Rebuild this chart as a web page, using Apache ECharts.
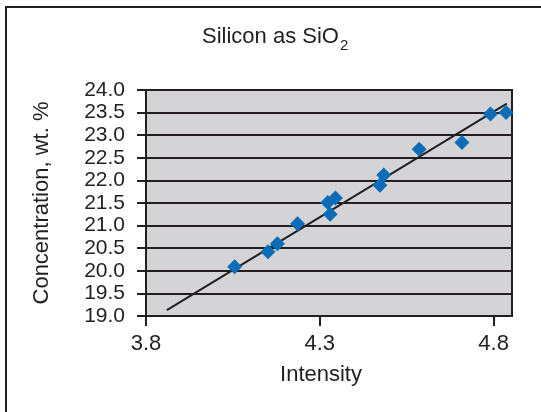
<!DOCTYPE html>
<html>
<head>
<meta charset="utf-8">
<script src="https://cdn.jsdelivr.net/npm/echarts@6/dist/echarts.min.js"></script>
<style>
html,body{margin:0;padding:0;background:#fff;}
#c{width:541px;height:412px;}
</style>
</head>
<body>
<div id="c"></div>
<script>
// Data
var intensity = [4.055, 4.151, 4.178, 4.236, 4.323, 4.345, 4.330, 4.473, 4.484, 4.586, 4.709, 4.791, 4.836];
var concentration = [20.09, 20.42, 20.60, 21.04, 21.51, 21.61, 21.25, 21.89, 22.12, 22.69, 22.84, 23.47, 23.50];
var trendX = [3.86, 4.838];
var trendY = [19.13, 23.70];
var xTicks = [3.8, 4.3, 4.8];

var scatterData = intensity.map(function (v, i) { return [v, concentration[i]]; });
var trendData = trendX.map(function (v, i) { return [v, trendY[i]]; });

var FONT = '"Liberation Sans", Arial, Helvetica, sans-serif';
var TXT = '#231f20';

var chart = echarts.init(document.getElementById('c'), null, {renderer: 'canvas'});
chart.setOption({
  animation: false,
  backgroundColor: '#ffffff',
  title: {
    text: '{a|Silicon as SiO}{b|2}',
    left: 202,
    top: 24,
    padding: 0,
    textStyle: {
      fontWeight: 'normal',
      rich: {
        a: {fontFamily: FONT, fontSize: 22, fontWeight: 'normal', color: TXT, verticalAlign: 'bottom', lineHeight: 24},
        b: {fontFamily: FONT, fontSize: 15, fontWeight: 'normal', color: TXT, verticalAlign: 'bottom', lineHeight: 24, padding: [0, 0, -5, 1]}
      }
    }
  },
  graphic: [{
    type: 'rect',
    shape: {x: 6, y: 7, width: 700, height: 600},
    style: {fill: 'none', stroke: '#231f20', lineWidth: 2},
    silent: true,
    z: 100
  }],
  grid: {
    left: 146, right: 29, top: 90, bottom: 96,
    show: true,
    backgroundColor: '#d4d4d6',
    borderColor: '#231f20',
    borderWidth: 2,
    containLabel: false
  },
  xAxis: {
    type: 'value',
    min: 3.8, max: 4.853,
    interval: 0.5,
    name: 'Intensity',
    nameLocation: 'middle',
    nameGap: 48,
    nameTextStyle: {fontFamily: FONT, fontSize: 22, color: TXT, padding: [0, 16, 0, 0]},
    axisLine: {show: true, lineStyle: {color: '#231f20', width: 2}},
    axisTick: {show: true, inside: false, length: 10, customValues: xTicks, lineStyle: {color: '#231f20', width: 2}},
    axisLabel: {fontFamily: FONT, fontSize: 22, color: TXT, margin: 17, customValues: xTicks,
      formatter: function (v) { return v.toFixed(1); }},
    splitLine: {show: false}
  },
  yAxis: {
    type: 'value',
    min: 19, max: 24, interval: 0.5,
    name: 'Concentration, wt. %',
    nameLocation: 'middle',
    nameGap: 93,
    nameTextStyle: {fontFamily: FONT, fontSize: 22, color: TXT},
    axisLine: {show: true, lineStyle: {color: '#231f20', width: 2}},
    axisTick: {show: true, inside: false, length: 9, lineStyle: {color: '#231f20', width: 2}},
    axisLabel: {fontFamily: FONT, fontSize: 21, color: TXT, margin: 21,
      formatter: function (v) { return v.toFixed(1); }},
    splitLine: {show: true, lineStyle: {color: '#231f20', width: 2.2}}
  },
  series: [
    {
      type: 'line',
      data: trendData,
      showSymbol: false,
      symbol: 'none',
      lineStyle: {color: '#231f20', width: 2},
      silent: true,
      z: 2
    },
    {
      type: 'scatter',
      data: scatterData,
      symbol: 'diamond',
      symbolSize: 15,
      itemStyle: {color: '#0b6cb8', opacity: 1},
      z: 3
    }
  ]
});
</script>
</body>
</html>
